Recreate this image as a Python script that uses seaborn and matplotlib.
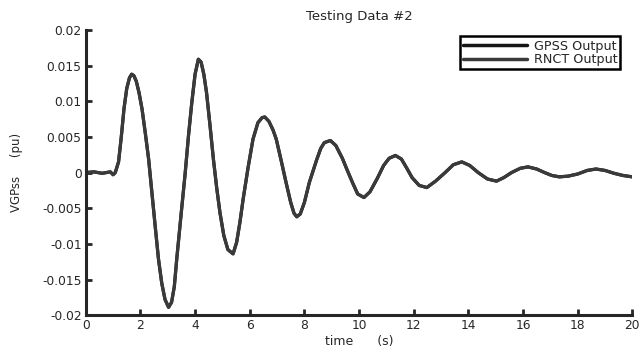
import numpy as np
import pandas as pd
import matplotlib
matplotlib.use("Agg")
import matplotlib.pyplot as plt
import seaborn as sns

# ── Données ────────────────────────────────────────────────
time = [0.0, 0.3, 0.6, 0.9, 1.0, 1.08, 1.2, 1.3, 1.4, 1.5, 1.6, 1.68, 1.76,
        1.85, 1.95, 2.06, 2.18, 2.3, 2.42, 2.54, 2.66, 2.78, 2.9, 3.03, 3.14,
        3.24, 3.33, 3.48, 3.64, 3.76, 3.88, 4.0, 4.12, 4.22, 4.32, 4.42, 4.55,
        4.67, 4.79, 4.91, 5.05, 5.2, 5.39, 5.52, 5.64, 5.76, 5.94, 6.12, 6.3,
        6.45, 6.55, 6.7, 6.85, 6.97, 7.15, 7.33, 7.5, 7.62, 7.72, 7.85, 8.0,
        8.18, 8.45, 8.6, 8.73, 8.95, 9.15, 9.39, 9.55, 9.76, 9.95, 10.18, 10.4,
        10.67, 10.9, 11.1, 11.33, 11.55, 11.75, 11.94, 12.2, 12.48, 12.8, 13.15,
        13.45, 13.76, 14.05, 14.36, 14.7, 15.03, 15.3, 15.58, 15.9, 16.18, 16.5,
        16.79, 17.05, 17.33, 17.65, 18.0, 18.35, 18.67, 19.0, 19.33, 19.65, 20.0]
gpss = [0.0, 0.0001, -0.0001, 0.0001, -0.0003, 0.0, 0.0015, 0.005, 0.009,
        0.0118, 0.0133, 0.0138, 0.0136, 0.0128, 0.0112, 0.0089, 0.0055, 0.0019,
        -0.0028, -0.0075, -0.0121, -0.0155, -0.0178, -0.0189, -0.0182, -0.0160,
        -0.0121, -0.0062, 0.0, 0.0052, 0.0098, 0.0138, 0.0159, 0.0155, 0.0138,
        0.0112, 0.0065, 0.0019, -0.0021, -0.0056, -0.0088, -0.0108, -0.0114,
        -0.0098, -0.0070, -0.0037, 0.0007, 0.0047, 0.0070, 0.0077, 0.0078,
        0.0072, 0.0060, 0.0047, 0.0017, -0.0014, -0.0042, -0.0057, -0.0062,
        -0.0058, -0.0042, -0.0014, 0.0018, 0.0034, 0.0042, 0.0045, 0.0038,
        0.0020, 0.0005, -0.0014, -0.0030, -0.0035, -0.0027, -0.0008, 0.0010,
        0.0020, 0.0024, 0.0019, 0.0006, -0.0007, -0.0018, -0.0021, -0.0012,
        0.0, 0.0011, 0.0015, 0.0010, 0.0, -0.0009, -0.0012, -0.0007, 0.0,
        0.0006, 0.0008, 0.0005, 0.0, -0.0004, -0.0006, -0.0005, -0.0002,
        0.0003, 0.0005, 0.0003, -0.0001, -0.0004, -0.0006]
rnct = list(gpss)

series_names = ["GPSS Output", "RNCT Output"]
colors = ["#151515", "#3a3a3a"]
y_ticks = [-0.02, -0.015, -0.01, -0.005, 0, 0.005, 0.01, 0.015, 0.02]
y_ticklabels = ["-0.02", "-0.015", "-0.01", "-0.005", "0", "0.005", "0.01", "0.015", "0.02"]
x_ticks = list(range(0, 21, 2))

df = pd.concat([
    pd.DataFrame({"time": time, "value": gpss, "serie": series_names[0]}),
    pd.DataFrame({"time": time, "value": rnct, "serie": series_names[1]}),
])

# ── Figure ─────────────────────────────────────────────────
sns.set_style("ticks")
plt.rcParams["font.family"] = ["DejaVu Sans"]

fig = plt.figure(figsize=(6.4, 3.49), dpi=100)
ax = fig.add_axes([0.134, 0.097, 0.854, 0.817])

sns.lineplot(data=df, x="time", y="value", hue="serie", palette=colors,
             linewidth=2.3, ax=ax, legend=True, sort=False)

ax.set_xlim(0, 20)
ax.set_ylim(-0.02, 0.02)
ax.set_xticks(x_ticks)
ax.set_yticks(y_ticks)
ax.set_yticklabels(y_ticklabels)
ax.tick_params(direction="in", length=4, width=2, labelsize=8.8, pad=3)

sns.despine(ax=ax)
for s in ["left", "bottom"]:
    ax.spines[s].set_linewidth(2.2)

ax.set_title("Testing Data #2", fontsize=9.5, pad=7)
ax.set_xlabel("time      (s)", fontsize=9, labelpad=2)
ax.set_ylabel("VGPss     (pu)", fontsize=8.5, labelpad=14)

leg = ax.legend(loc="upper right", fontsize=9.2, handlelength=5.0,
                frameon=True, fancybox=False, framealpha=1.0, borderpad=0.25,
                labelspacing=0.05, handletextpad=0.5,
                bbox_to_anchor=(0.99, 1.0))
leg.get_frame().set_edgecolor("black")
leg.get_frame().set_linewidth(1.8)
for line in leg.get_lines():
    line.set_linewidth(2.5)

fig.savefig("out.png", dpi=100)
